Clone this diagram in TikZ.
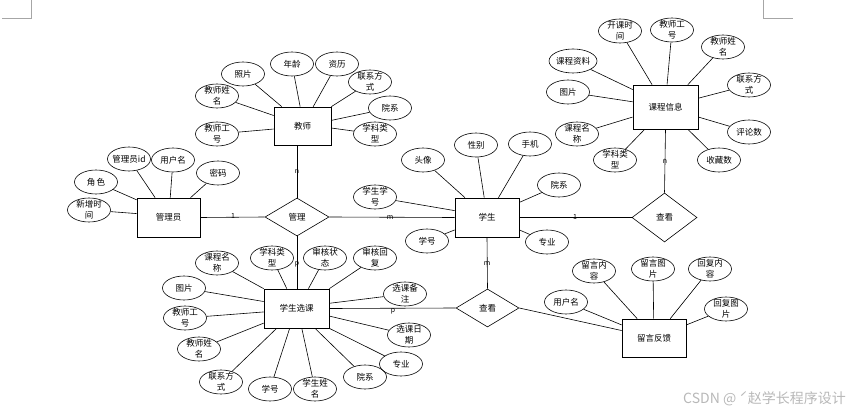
\documentclass[tikz,border=0pt]{standalone}
\usepackage{fontspec}
\setmainfont{Noto Sans CJK SC}
\usetikzlibrary{shapes.geometric}
\begin{document}
\begin{tikzpicture}[x=1pt,y=-1pt,
  every node/.style={font=\fontsize{8.5}{11}\selectfont},
  attr/.style={draw, ellipse, line width=0.6pt, minimum width=43pt, minimum height=24pt, inner sep=-3pt, align=center},
  ent/.style={draw, rectangle, line width=0.7pt, inner sep=0pt, align=center},
  rel/.style={draw, diamond, aspect=1.7, line width=0.6pt, inner sep=0pt},
  card/.style={font=\fontsize{7}{8}\selectfont, inner sep=0pt},
  lnk/.style={line width=0.6pt},
  corner/.style={draw=black!35, line width=0.6pt}]
\useasboundingbox (0,0) rectangle (851,414);
% page corner marks
\coordinate (k1) at (31.5,0);
\coordinate (k2) at (31.5,18);
\coordinate (k3) at (2,18);
\coordinate (k4) at (763,0);
\coordinate (k5) at (763,18);
\coordinate (k6) at (793,18);
\draw[corner] (k1) -- (k2) -- (k3);
\draw[corner] (k4) -- (k5) -- (k6);

% entities
\node[ent, minimum width=57pt, minimum height=38pt] (T) at (302.5,126) {教师};
\node[ent, minimum width=63pt, minimum height=39pt] (A) at (168.5,217.5) {管理员};
\node[ent, minimum width=64pt, minimum height=39pt] (S) at (487,217.5) {学生};
\node[ent, minimum width=65pt, minimum height=44pt] (C) at (665.5,107) {课程信息};
\node[ent, minimum width=65pt, minimum height=39pt] (X) at (296.5,308.5) {学生选课};
\node[ent, minimum width=64pt, minimum height=38pt] (F) at (654,338) {留言反馈};

% relations
\node[rel, minimum width=64pt, minimum height=38pt] (M) at (297,217) {管理};
\node[rel, minimum width=65pt, minimum height=49pt] (V1) at (664.5,217.5) {查看};
\node[rel, minimum width=63pt, minimum height=38pt] (V2) at (487.5,308) {查看};

% relation links
\draw[lnk] (A.east) -- (M.west);
\draw[lnk] (M.east) -- (S.west);
\draw[lnk] (T.south -| M.north) -- (M.north);
\draw[lnk] (M.south) -- (M.south |- X.north);
\draw[lnk] (S.east) -- (V1.west);
\draw[lnk] (C.south) -- (V1.north);
\draw[lnk] (S.south) -- (V2.north);
\draw[lnk] (X.east) -- (V2.west);
\draw[lnk] (V2.east) -- (F.167);

% cardinalities
\node[card] (l1) at (233,216) {1};
\node[card] (l2) at (390,218) {m};
\node[card] (l3) at (297,172) {n};
\node[card] (l4) at (297,264) {p};
\node[card] (l5) at (575,217) {1};
\node[card] (l6) at (665,162) {n};
\node[card] (l7) at (487,264) {m};
\node[card] (l8) at (393,311) {p};

% teacher attributes
\node[attr] (t1) at (243,74) {照片};
\node[attr] (t2) at (292,64) {年龄};
\node[attr] (t3) at (337,64) {资历};
\node[attr] (t4) at (370,82) {联系方\\式};
\node[attr] (t5) at (390,108) {院系};
\node[attr] (t6) at (375,134) {学科类\\型};
\node[attr] (t7) at (217,96) {教师姓\\名};
\node[attr] (t8) at (217,134) {教师工\\号};
\draw[lnk] (t1) -- (T.137);
\draw[lnk] (t2) -- (T.97.5);
\draw[lnk] (t3) -- (T.61);
\draw[lnk] (t4) -- (T.north east);
\draw[lnk] (t5) -- (T.11);
\draw[lnk] (t6) -- (T.-4);
\draw[lnk] (t7) -- (T.160.7);
\draw[lnk] (t8) -- (T.186);

% admin attributes
\node[attr] (a1) at (96,182) {角\,色};
\node[attr] (a2) at (129,159) {管理员id};
\node[attr] (a3) at (173,160) {用户名};
\node[attr] (a4) at (218,173) {密码};
\node[attr] (a5) at (89,210) {新增时\\间};
\draw[lnk] (a1) -- (A.151);
\draw[lnk] (a2) -- (A.124.7);
\draw[lnk] (a3) -- (A.85.6);
\draw[lnk] (a4) -- (A.42);
\draw[lnk] (a5) -- (A.173.7);

% student attributes
\node[attr] (s1) at (375,197) {学生学\\号};
\node[attr] (s2) at (423,160) {头像};
\node[attr] (s3) at (476,145) {性别};
\node[attr] (s4) at (530,144) {手机};
\node[attr] (s5) at (559,185) {院系};
\node[attr] (s6) at (427,241) {学号};
\node[attr] (s7) at (547,242) {专业};
\draw[lnk] (s1) -- (S.168.5);
\draw[lnk] (s2) -- (S.138.4);
\draw[lnk] (s3) -- (S.98.7);
\draw[lnk] (s4) -- (S.60.6);
\draw[lnk] (s5) -- (S.25.8);
\draw[lnk] (s6) -- (S.201.3);
\draw[lnk] (s7) -- (S.-21.3);

% course attributes
\node[attr] (c1) at (620,31) {开课时\\间};
\node[attr] (c2) at (672,30) {教师工\\号};
\node[attr] (c3) at (723,47) {教师姓\\名};
\node[attr] (c4) at (749,85) {联系方\\式};
\node[attr, minimum width=48pt] (c5) at (573,61) {课程资料};
\node[attr] (c6) at (568,92) {图片};
\node[attr] (c7) at (577,134) {课程名\\称};
\node[attr] (c8) at (615,160) {学科类\\型};
\node[attr] (c9) at (749,132) {评论数};
\node[attr] (c10) at (719,160) {收藏数};
\draw[lnk] (c1) -- (C.121.5);
\draw[lnk] (c2) -- (C.86);
\draw[lnk] (c3) -- (C.45.7);
\draw[lnk] (c4) -- (C.15.5);
\draw[lnk] (c5) -- (C.152.4);
\draw[lnk] (c6) -- (C.171.3);
\draw[lnk] (c7) -- (C.197);
\draw[lnk] (c8) -- (C.227);
\draw[lnk] (c9) -- (C.-17);
\draw[lnk] (c10) -- (C.-45.7);

% course selection attributes
\node[attr] (x1) at (217,263) {课程名\\称};
\node[attr] (x2) at (272,258) {学科类\\型};
\node[attr] (x3) at (325,258) {审核状\\态};
\node[attr] (x4) at (375,258) {审核回\\复};
\node[attr] (x5) at (184,288) {图片};
\node[attr] (x6) at (185,318) {教师工\\号};
\node[attr] (x7) at (199,349) {教师姓\\名};
\node[attr] (x8) at (221,382) {联系方\\式};
\node[attr] (x9) at (270,389) {学号};
\node[attr] (x10) at (315,389) {学生姓\\名};
\node[attr] (x11) at (365,377) {院系};
\node[attr] (x12) at (401,364) {专业};
\node[attr] (x13) at (409,335) {选课日\\期};
\node[attr] (x14) at (405,294) {选课备\\注};
\draw[lnk] (x1) -- (X.north west);
\draw[lnk] (x2) -- (X.116);
\draw[lnk] (x3) -- (X.59.5);
\draw[lnk] (x4) -- (X.north east);
\draw[lnk] (x5) -- (X.168.7);
\draw[lnk] (x6) -- (X.186);
\draw[lnk] (x7) -- (X.204);
\draw[lnk] (x8) -- (X.225);
\draw[lnk] (x9) -- (X.251.6);
\draw[lnk] (x10) -- (X.285.8);
\draw[lnk] (x11) -- (X.313.5);
\draw[lnk] (x12) -- (X.south east);
\draw[lnk] (x13) -- (X.-13);
\draw[lnk] (x14) -- (X.9.6);

% feedback attributes
\node[attr] (f1) at (566,302) {用户名};
\node[attr] (f2) at (594,271) {留言内\\容};
\node[attr] (f3) at (653,269) {留言图\\片};
\node[attr] (f4) at (710,269) {回复内\\容};
\node[attr] (f5) at (726,309) {回复图\\片};
\draw[lnk] (f1) -- (F.158);
\draw[lnk] (f2) -- (F.131.8);
\draw[lnk] (f3) -- (F.91);
\draw[lnk] (f4) -- (F.50);
\draw[lnk] (f5) -- (F.22);

% watermark
\node[anchor=east, text=black!28, font=\fontsize{14}{16}\selectfont, inner sep=0pt] (wm) at (846,399) {CSDN @ ˊ赵学长程序设计};
\end{tikzpicture}
\end{document}
